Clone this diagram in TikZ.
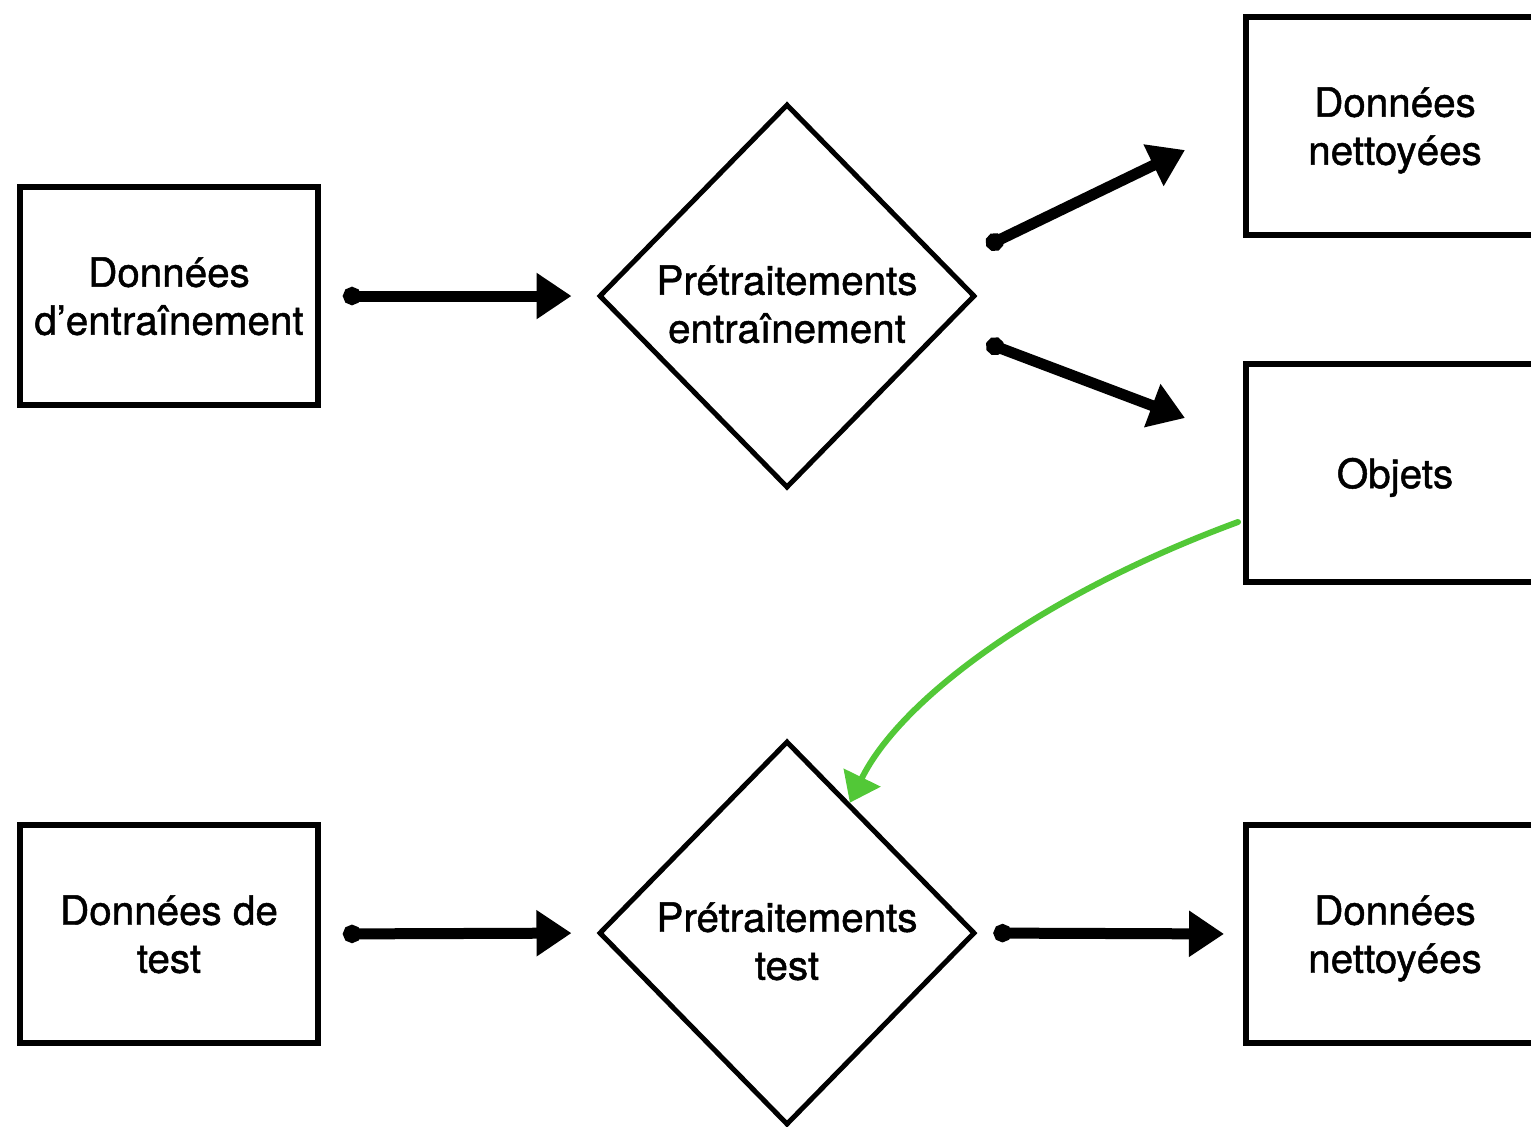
\documentclass[tikz,border=0pt]{standalone}
\usepackage{fontspec}
\setmainfont{TeX Gyre Heros}
\newfontfamily\labelfamily{TeX Gyre Heros}[FakeBold=1.2]
\usetikzlibrary{arrows.meta,shapes.geometric,calc}
\definecolor{linkgreen}{RGB}{82,200,55}
\begin{document}
\begin{tikzpicture}[x=0.5pt,y=-0.5pt,
  label font/.style={font=\labelfamily\fontsize{20.2}{24}\selectfont},
  databox/.style={draw, line width=3pt, minimum width=149pt, minimum height=109pt,
    inner sep=0pt, text depth=0pt, align=center, label font},
  stagebox/.style={draw, diamond, line width=2.5pt, minimum width=188pt,
    minimum height=192pt, inner sep=0pt},
  stagetext/.style={align=center, inner sep=0pt, text depth=0pt, label font},
  flow/.style={line width=5.5pt, line cap=round,
    {Circle[length=9pt]}-{Triangle[length=17.5pt,width=22pt]}},
  feed/.style={line width=3pt, draw=linkgreen, line cap=round,
    -{Triangle[length=14pt,width=20pt,fill=linkgreen]}}]
\useasboundingbox (0,0) rectangle (1531,1126);
\clip (0,0) rectangle (1531,1126);

% inputs
\node[databox] (train) at (169,296) {Données\\d’entraînement};
\node[databox] (test)  at (169,934) {Données de\\test};

% preprocessing stages
\node[stagebox] (ptrain) at (787,296) {};
\node[stagetext] (ptraintxt) at ($(ptrain)+(0,8)$) {Prétraitements\\entraînement};
\node[stagebox] (ptest) at (787,933) {};
\node[stagetext] (ptesttxt) at ($(ptest)+(0,8)$) {Prétraitements\\test};

% outputs
\node[databox] (clean)  at (1395,126) {Données\\nettoyées};
\node[databox] (objs)   at (1395,473) {Objets};
\node[databox] (cleant) at (1395,934) {Données\\nettoyées};

% training branch
\draw[flow, shorten <=11pt, shorten >=12.5pt] (train.east) -- (ptrain.west);
\coordinate (upS) at ($(ptrain.east)+(9,-50)$);
\coordinate (upE) at ($(clean.west)+(-58,24)$);
\draw[flow] (upS) -- (upE);
\coordinate (dnS) at ($(ptrain.east)+(9,47)$);
\coordinate (dnE) at ($(objs.west)+(-58,-55)$);
\draw[flow] (dnS) -- (dnE);

% test branch
\draw[flow, shorten <=11pt, shorten >=12.5pt] (test.east) -- (ptest.west);
\draw[flow, shorten <=8pt, shorten >=9.5pt] (ptest.east) -- (cleant.west);

% fitted objects reused on the test data
\coordinate (feedS) at ($(objs.west)+(-5,49)$);
\coordinate (feedE) at ($(ptest.north)!0.33!(ptest.east)$);
\draw[feed] (feedS) .. controls (1040,595) and (900,700) .. (feedE);
\end{tikzpicture}
\end{document}
